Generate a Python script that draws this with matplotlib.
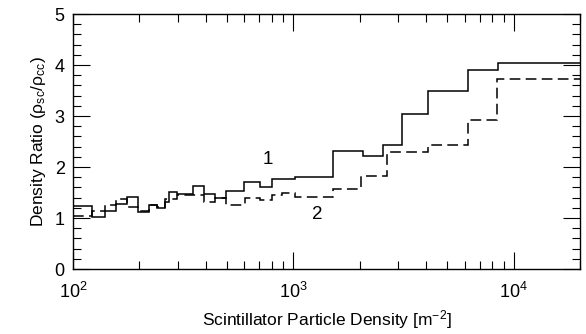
import numpy as np
import matplotlib
matplotlib.use("Agg")
import matplotlib.pyplot as plt
from matplotlib.ticker import MultipleLocator, LogLocator

plt.rcParams['font.family'] = ['Liberation Sans', 'DejaVu Sans']
plt.rcParams['mathtext.fontset'] = 'custom'
plt.rcParams['mathtext.rm'] = 'Liberation Sans'
plt.rcParams['mathtext.it'] = 'Liberation Sans:italic'
plt.rcParams['mathtext.bf'] = 'Liberation Sans:bold'

# curve 1 (solid)
edges_1 = [100, 122, 139, 156, 175, 198, 221, 241, 261, 273, 295, 349, 394,
           441, 493, 598, 705, 799, 1016, 1511, 2066, 2546, 3105, 4074, 6185,
           8460, 20000]
ratio_1 = [1.23, 1.02, 1.14, 1.28, 1.42, 1.11, 1.25, 1.19, 1.31, 1.51, 1.48,
           1.63, 1.48, 1.39, 1.52, 1.70, 1.61, 1.76, 1.80, 2.32, 2.21, 2.44,
           3.03, 3.49, 3.91, 4.03]

# curve 2 (dashed)
edges_2 = [100, 122, 139, 156, 175, 198, 221, 241, 261, 295, 349, 394, 441,
           493, 602, 705, 796, 884, 1016, 1511, 2025, 2655, 4074, 6185, 8370,
           20000]
ratio_2 = [1.03, 1.13, 1.26, 1.38, 1.22, 1.13, 1.25, 1.22, 1.38, 1.46, 1.46,
           1.31, 1.39, 1.26, 1.39, 1.35, 1.46, 1.50, 1.41, 1.56, 1.82, 2.29,
           2.44, 2.92, 3.72]

fig = plt.figure(figsize=(5.86, 3.34), dpi=100)
ax = fig.add_axes([0.1246, 0.1946, 0.8652, 0.7634])

ax.stairs(ratio_1, edges_1, color='black', linewidth=1.1, baseline=None)
ax.stairs(ratio_2, edges_2, color='black', linewidth=1.1, baseline=None,
          linestyle=(0, (7, 3.5)))

ax.text(766, 2.15, '1', fontsize=13.5, ha='center', va='center')
ax.text(1279, 1.06, '2', fontsize=13.5, ha='center', va='center')

ax.set_xscale('log')
ax.set_xlim(100, 20000)
ax.set_ylim(0, 5)
ax.yaxis.set_major_locator(MultipleLocator(1))
ax.yaxis.set_minor_locator(MultipleLocator(0.2))
ax.xaxis.set_major_locator(LogLocator(base=10))
ax.xaxis.set_minor_locator(LogLocator(base=10, subs=np.arange(2, 10)))

ax.tick_params(which='both', direction='in', top=True, right=True,
               labelsize=13, width=0.8, colors='black')
ax.tick_params(which='major', length=12)
ax.tick_params(which='minor', length=6)
ax.tick_params(axis='x', which='major', pad=9)
ax.tick_params(axis='y', which='major', pad=6)
for s in ax.spines.values():
    s.set_linewidth(1.0)

ax.set_xlabel('Scintillator Particle Density [m$^{-2}$]', fontsize=12.5, labelpad=5)
ax.set_ylabel(r'Density Ratio (ρ$_{\rm sc}$/ρ$_{\rm cc}$)', fontsize=12.5, labelpad=5)

fig.savefig('out.png', dpi=100)
